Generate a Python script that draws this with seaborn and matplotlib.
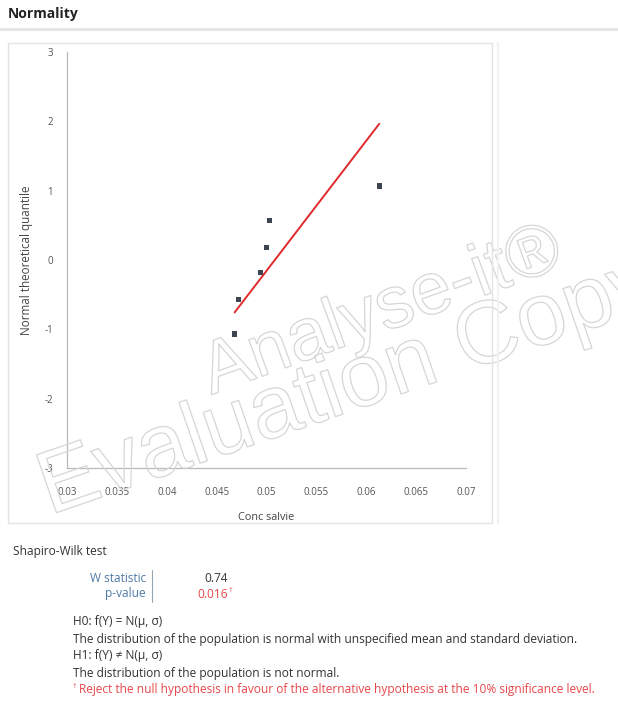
import numpy as np
import pandas as pd
import matplotlib
matplotlib.use("Agg")
import matplotlib.pyplot as plt
import matplotlib.patheffects as pe
from matplotlib.patches import Rectangle
from matplotlib.lines import Line2D
import seaborn as sns

# Observed concentrations (sorted) and their normal theoretical quantiles
conc_salvie = [0.0468, 0.0472, 0.0494, 0.0500, 0.0503, 0.0613]
normal_quantile = [-1.07, -0.57, -0.18, 0.18, 0.57, 1.07]

x_ticks = [0.03, 0.035, 0.04, 0.045, 0.05, 0.055, 0.06, 0.065, 0.07]
x_tick_labels = ["0.03", "0.035", "0.04", "0.045", "0.05", "0.055", "0.06", "0.065", "0.07"]
y_ticks = [-3, -2, -1, 0, 1, 2, 3]

w_statistic = "0.74"
p_value = "0.016"

sns.set_theme(style="white")
plt.rcParams["font.family"] = ["Open Sans", "DejaVu Sans"]

W, H = 618, 701
fig = plt.figure(figsize=(W / 100, H / 100), dpi=100)
fig.patch.set_facecolor("white")


def fx(px):
    return px / W


def fy(py):
    return 1 - py / H


# Header
fig.text(fx(8), fy(14), "Normality", fontsize=10, fontweight="bold",
         color="#222222", va="center", ha="left")
fig.add_artist(Line2D([0, 1], [fy(29), fy(29)], color="#e6e6e6", lw=2.2,
                      transform=fig.transFigure))

# Chart frame
fig.add_artist(Rectangle((fx(8), fy(523)), fx(492) - fx(8), fy(43) - fy(523),
                         transform=fig.transFigure, fill=False,
                         edgecolor="#e4e4e4", lw=1.0))
fig.add_artist(Line2D([fx(498), fx(498)], [fy(523), fy(43)], color="#f2f2f2",
                      lw=1.5, transform=fig.transFigure))

# Q-Q plot
ax = fig.add_axes([fx(67), fy(468), fx(466) - fx(67), fy(52) - fy(468)])
df = pd.DataFrame({"Conc salvie": conc_salvie, "quantile": normal_quantile})

# Reference line for a normal distribution with the sample mean and SD
mu = np.mean(conc_salvie)
sd = np.std(conc_salvie, ddof=1)
line_df = pd.DataFrame({"x": [min(conc_salvie), max(conc_salvie)]})
line_df["y"] = (line_df["x"] - mu) / sd
sns.lineplot(data=line_df, x="x", y="y", ax=ax, color="#e0292c", lw=1.4,
             zorder=3)
sns.scatterplot(data=df, x="Conc salvie", y="quantile", ax=ax, marker="s",
                s=15, color="#3d4650", edgecolor="none", zorder=4)

ax.set_xlim(0.03, 0.07)
ax.set_ylim(-3, 3)
ax.set_xticks(x_ticks)
ax.set_xticklabels(x_tick_labels)
ax.set_yticks(y_ticks)
ax.set_yticklabels([str(t) if t >= 0 else "-" + str(-t) for t in y_ticks])
for side in ["top", "right"]:
    ax.spines[side].set_visible(False)
for side in ["left", "bottom"]:
    ax.spines[side].set_color("#b9b9b9")
    ax.spines[side].set_linewidth(0.9)
ax.tick_params(axis="both", which="major", direction="inout", length=4,
               width=0.8, color="#b9b9b9", labelsize=7.0, labelcolor="#555555")
ax.tick_params(axis="x", pad=12)
ax.tick_params(axis="y", pad=8)
ax.set_xlabel("Conc salvie", fontsize=7.8, color="#444444", labelpad=10)
ax.set_ylabel("Normal theoretical quantile", fontsize=8.4, color="#444444",
              labelpad=8)
ax.patch.set_alpha(0)

# Outlined watermark
outline = [pe.Stroke(linewidth=0.9, foreground="#d6d6d6")]
fig.text(fx(382), fy(312), "Analyse-it\u00ae", fontsize=53, rotation=20,
         color=(1, 1, 1, 0), ha="center", va="center", path_effects=outline,
         family=["Liberation Sans", "DejaVu Sans"], zorder=0)
fig.text(fx(348), fy(388), "Evaluation Copy", fontsize=64, rotation=19,
         color=(1, 1, 1, 0), ha="center", va="center", path_effects=outline,
         family=["Liberation Sans", "DejaVu Sans"], zorder=0)

# Shapiro-Wilk summary
fs = 8.6
fig.text(fx(13), fy(552), "Shapiro-Wilk test", fontsize=fs, color="#333333",
         va="center")
fig.text(fx(146), fy(578), "W statistic", fontsize=fs, color="#4f7aa6",
         ha="right", va="center")
fig.text(fx(146), fy(594), "p-value", fontsize=fs, color="#4f7aa6",
         ha="right", va="center")
fig.add_artist(Line2D([fx(152), fx(152)], [fy(602), fy(570)], color="#9aa4ae",
                      lw=0.8, transform=fig.transFigure))
fig.text(fx(228), fy(578), w_statistic, fontsize=fs, color="#333333",
         ha="right", va="center")
fig.text(fx(228), fy(594), p_value, fontsize=fs, color="#e8474b",
         ha="right", va="center")
fig.text(fx(229), fy(590), "\u2020", fontsize=5.5, color="#e8474b",
         ha="left", va="center")

lines = [
    ("H0: f(Y) = N(\u03bc, \u03c3)", 622),
    ("The distribution of the population is normal with unspecified mean and standard deviation.", 639),
    ("H1: f(Y) \u2260 N(\u03bc, \u03c3)", 656),
    ("The distribution of the population is not normal.", 673),
]
for txt, py in lines:
    fig.text(fx(73), fy(py), txt, fontsize=fs, color="#333333", va="center")
fig.text(fx(73), fy(687), "\u2020", fontsize=5.5, color="#e8474b", va="center")
fig.text(fx(79), fy(690),
         "Reject the null hypothesis in favour of the alternative hypothesis at the 10% significance level.",
         fontsize=fs, color="#e8474b", va="center")

fig.savefig("out.png", dpi=100, facecolor="white")
